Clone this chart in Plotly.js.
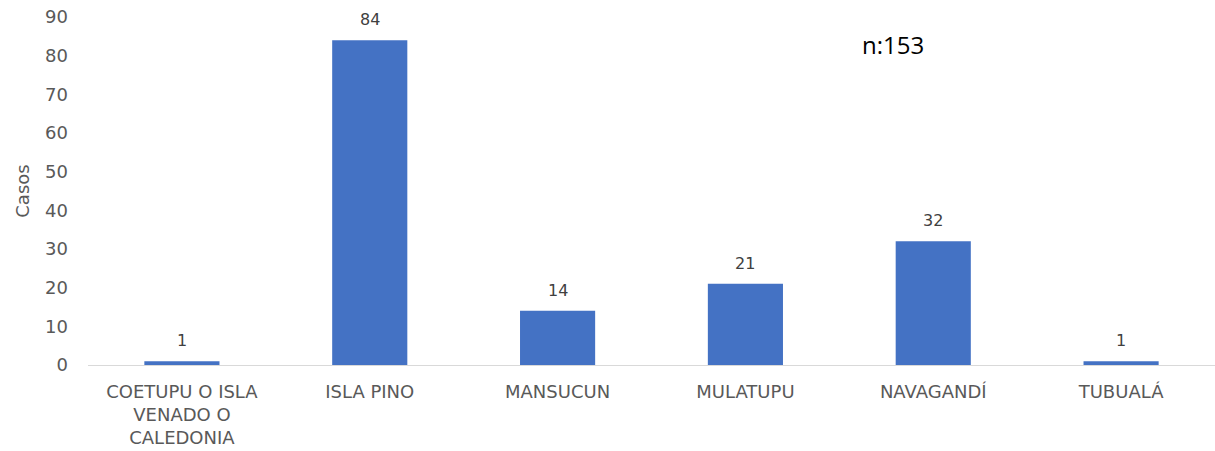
<!DOCTYPE html>
<html>
<head>
<meta charset="utf-8">
<script src="https://cdn.plot.ly/plotly-3.0.1.min.js"></script>
<style>html,body{margin:0;padding:0;background:#fff;}#chart{width:1215px;height:451px;}</style>
</head>
<body>
<div id="chart"></div>
<script>
const categories = ["COETUPU O ISLA<br>VENADO O<br>CALEDONIA", "ISLA PINO", "MANSUCUN", "MULATUPU", "NAVAGANDÍ", "TUBUALÁ"];
const casos = [1, 84, 14, 21, 32, 1];
const yTicks = [0, 10, 20, 30, 40, 50, 60, 70, 80, 90];
const totalLabel = "n:153";

const trace = {
  type: "bar",
  x: categories,
  y: casos,
  marker: {color: "#4472C4"},
  hoverinfo: "none"
};

const valueLabels = categories.map((c, i) => ({
  x: c, y: casos[i], xref: "x", yref: "y",
  text: String(casos[i]),
  showarrow: false,
  xanchor: "center", yanchor: "bottom",
  yshift: 9,
  font: {family: "DejaVu Sans, sans-serif", size: 16, color: "#404040"}
}));

const layout = {
  width: 1215,
  height: 451,
  margin: {l: 88, r: 0, t: 17, b: 86},
  paper_bgcolor: "#fff",
  plot_bgcolor: "#fff",
  bargap: 0.6,
  showlegend: false,
  font: {family: "DejaVu Sans, sans-serif", color: "#595959"},
  xaxis: {
    showgrid: false,
    zeroline: false,
    showline: true,
    linecolor: "#d9d9d9",
    linewidth: 1,
    ticks: "",
    tickfont: {family: "DejaVu Sans, sans-serif", size: 18, color: "#595959"},
    tickangle: 0,
    ticklabelstandoff: 10
  },
  yaxis: {
    range: [0, 90],
    tickvals: yTicks,
    showgrid: false,
    zeroline: false,
    showline: false,
    ticks: "",
    ticklen: 0,
    ticklabelstandoff: 19,
    tickfont: {family: "DejaVu Sans, sans-serif", size: 18, color: "#595959"},
    title: {text: "Casos", font: {family: "DejaVu Sans, sans-serif", size: 18, color: "#595959"}, standoff: 10}
  },
  annotations: valueLabels.concat([{
    text: totalLabel,
    xref: "paper", yref: "paper",
    x: 0.714, y: 0.92,
    xanchor: "center", yanchor: "middle",
    showarrow: false,
    font: {family: "Open Sans, sans-serif", size: 24, color: "#000"}
  }])
};

Plotly.newPlot("chart", [trace], layout, {displayModeBar: false, staticPlot: true});
</script>
</body>
</html>
